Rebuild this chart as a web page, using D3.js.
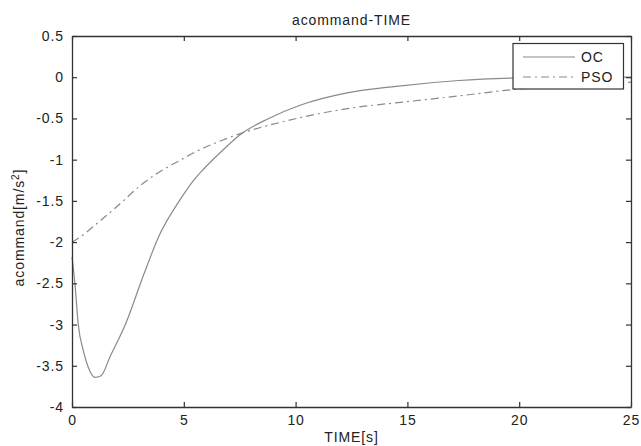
<!DOCTYPE html>
<html><head><meta charset="utf-8">
<script src="https://cdn.jsdelivr.net/npm/d3@7"></script>
<style>body{margin:0;background:#fff}text{font-family:"Liberation Sans",Arial,sans-serif;fill:#222}</style>
</head><body><svg id="c" width="641" height="446"></svg>
<script>
const title = "acommand-TIME";
const xLabel = "TIME[s]";
const xTicks = [0, 5, 10, 15, 20, 25];
const yTicks = [0.5, 0, -0.5, -1, -1.5, -2, -2.5, -3, -3.5, -4];
const yTickLabels = ["0.5", "0", "-0.5", "-1", "-1.5", "-2", "-2.5", "-3", "-3.5", "-4"];
const seriesNames = ["OC", "PSO"];
const ocT = [0, 0.13, 0.28, 0.5, 0.73, 1.03, 1.3, 1.7, 2.4, 3.2, 3.9, 4.8, 5.5, 5.9, 6.8, 7.5, 8.8, 10.2, 12.3, 14.5, 17.3, 19.7, 22, 25];
const ocV = [-2.18, -2.5, -3.0, -3.31, -3.52, -3.64, -3.62, -3.39, -2.99, -2.4, -1.92, -1.5, -1.23, -1.11, -0.87, -0.70, -0.50, -0.34, -0.19, -0.11, -0.04, -0.01, 0.0, 0.0];
const psoT = [0, 0.13, 1.18, 1.92, 3.26, 4.15, 4.82, 5.42, 7.05, 9.73, 12.1, 15.2, 17.2, 19.7, 22, 25];
const psoV = [-2.0, -1.98, -1.76, -1.59, -1.27, -1.11, -1.01, -0.92, -0.73, -0.52, -0.39, -0.29, -0.23, -0.15, -0.1, -0.06];

const svg = d3.select("#c");
const L = 72, R = 631, T = 36, B = 407;
const x = d3.scaleLinear().domain([0, 25]).range([L, R]);
const y = d3.scaleLinear().domain([-4, 0.5]).range([B, T]);
const fs = "14px", ls = "0.9px";

const line = d3.line().x(d => x(d[0])).y(d => y(d[1])).curve(d3.curveMonotoneX);
const oc = ocT.map((t, i) => [t, ocV[i]]);
const pso = psoT.map((t, i) => [t, psoV[i]]);
svg.append("path").attr("d", line(oc)).attr("fill", "none").attr("stroke", "#8a8a8a").attr("stroke-width", 1.2);
svg.append("path").attr("d", line(pso)).attr("fill", "none").attr("stroke", "#8a8a8a").attr("stroke-width", 1.2).attr("stroke-dasharray", "8,4,2,4");

// axes
const ax = svg.append("g").attr("transform", `translate(0,${B})`).call(d3.axisBottom(x).tickValues(xTicks).tickSizeInner(-5).tickSizeOuter(0).tickPadding(8));
const axT = svg.append("g").attr("transform", `translate(0,${T})`).call(d3.axisTop(x).tickValues(xTicks).tickSizeInner(-5).tickSizeOuter(0).tickFormat(""));
const ay = svg.append("g").attr("transform", `translate(${L},0)`).call(d3.axisLeft(y).tickValues(yTicks).tickFormat((d, i) => yTickLabels[i]).tickSizeInner(-5).tickSizeOuter(0).tickPadding(8));
const ayR = svg.append("g").attr("transform", `translate(${R},0)`).call(d3.axisRight(y).tickValues(yTicks).tickSizeInner(-5).tickSizeOuter(0).tickFormat(""));
[ax, axT, ay, ayR].forEach(g => {
  g.selectAll("path.domain").attr("stroke", "#333").attr("stroke-width", 1.3);
  g.selectAll(".tick line").attr("stroke", "#333").attr("stroke-width", 1.2);
  g.selectAll(".tick text").attr("font-size", fs).attr("letter-spacing", ls).attr("font-family", null).style("fill", "#222");
});

svg.append("text").attr("x", (L + R) / 2).attr("y", 25).attr("text-anchor", "middle").attr("font-size", fs).attr("letter-spacing", ls).text(title);
svg.append("text").attr("x", (L + R) / 2).attr("y", 442).attr("text-anchor", "middle").attr("font-size", fs).attr("letter-spacing", ls).text(xLabel);
const yl = svg.append("text").attr("transform", `translate(24,${(T + B) / 2 + 6}) rotate(-90)`).attr("text-anchor", "middle").attr("font-size", fs).attr("letter-spacing", ls);
yl.append("tspan").text("acommand[m/s");
yl.append("tspan").attr("dy", -5).attr("font-size", "10px").text("2");
yl.append("tspan").attr("dy", 5).text("]");

// legend
const lg = svg.append("g");
lg.append("rect").attr("x", 513).attr("y", 43.5).attr("width", 110.5).attr("height", 45.5).attr("fill", "#fff").attr("stroke", "#333").attr("stroke-width", 1.2);
seriesNames.forEach((n, i) => {
  const yy = 57 + i * 20;
  lg.append("line").attr("x1", 523).attr("x2", 575).attr("y1", yy).attr("y2", yy).attr("stroke", "#8a8a8a").attr("stroke-width", 1.2).attr("stroke-dasharray", i === 1 ? "8,4,2,4" : null);
  lg.append("text").attr("x", 581).attr("y", yy + 5).attr("font-size", fs).attr("letter-spacing", ls).text(n);
});
</script></body></html>
